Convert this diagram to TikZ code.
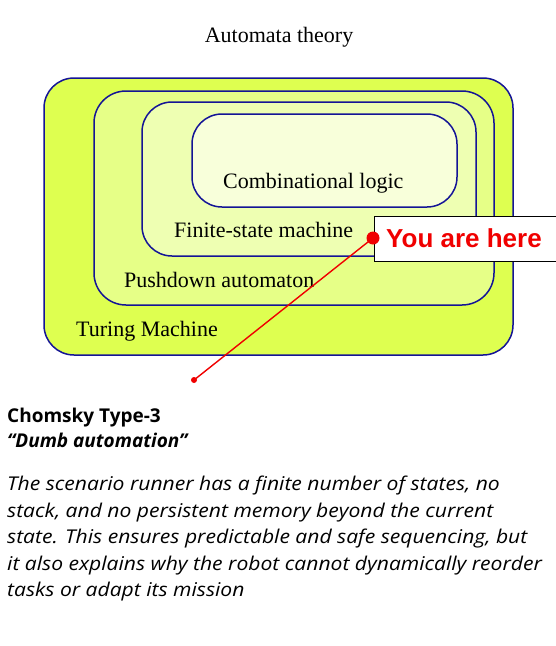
\documentclass[tikz,border=0pt]{standalone}
\usepackage{fontspec}
\setmainfont{Liberation Serif}
\newfontfamily\bodyfont{Open Sans}
\newfontfamily\widebodyfont[FakeStretch=1.11]{Open Sans}
\newfontfamily\arialfont{Liberation Sans}
\definecolor{bordercol}{RGB}{20,20,150}
\definecolor{tmfill}{RGB}{222,255,80}
\definecolor{pdfill}{RGB}{230,255,135}
\definecolor{fsmfill}{RGB}{238,255,178}
\definecolor{clfill}{RGB}{248,255,218}
\definecolor{herered}{RGB}{240,0,0}
\tikzset{
  setbox/.style={draw=bordercol, line width=1.5pt},
  setlabel/.style={anchor=base west, inner sep=0pt, font=\fontsize{22}{24}\selectfont},
  bodytext/.style={anchor=base west, inner sep=0pt, font=\widebodyfont\itshape\fontsize{19}{22}\selectfont},
}
\begin{document}
\begin{tikzpicture}[x=1pt,y=-1pt]
\useasboundingbox (0,0) rectangle (556,646);
\fill[white] (0,0) rectangle (556,646);
% nested sets
\draw[setbox, fill=tmfill, rounded corners=30pt] (44,78) rectangle (513,355);
\draw[setbox, fill=pdfill, rounded corners=32pt] (94,91) rectangle (494,305);
\draw[setbox, fill=fsmfill, rounded corners=30pt] (142,102) rectangle (476,256);
\draw[setbox, fill=clfill, rounded corners=30pt] (192,114) rectangle (457,207);
% labels
\node[anchor=base, inner sep=0pt, font=\fontsize{22}{24}\selectfont] (title) at (279,42) {Automata theory};
\node[setlabel] (cl) at (223,188) {Combinational logic};
\node[setlabel] (fsm) at (174,237) {Finite-state machine};
\node[setlabel] (pda) at (124,287) {Pushdown automaton};
\node[setlabel] (tm) at (76,336) {Turing Machine};
% you are here
\draw[black, line width=0.8pt, fill=white] (374,216) rectangle (560,261);
\node[anchor=base west, inner sep=0pt, text=herered, font=\arialfont\bfseries\fontsize{26}{28}\selectfont] (here) at (386,247) {You are here};
\node[circle, fill=herered, inner sep=0pt, minimum size=13pt] (dot) at (373,238) {};
\node[circle, fill=herered, inner sep=0pt, minimum size=6pt] (end) at (194,380) {};
\draw[herered, line width=1.4pt] (dot.center) -- (end.center);
% text
\node[anchor=base west, inner sep=0pt, font=\bodyfont\bfseries\fontsize{19}{22}\selectfont] (t1) at (7,422) {Chomsky Type-3};
\node[anchor=base west, inner sep=0pt, font=\bodyfont\bfseries\itshape\fontsize{19}{22}\selectfont] (t2) at (7,447) {“Dumb automation”};
\node[bodytext] (p1) at (7,490) {The scenario runner has a finite number of states, no};
\node[bodytext] (p2) at (7,517) {stack, and no persistent memory beyond the current};
\node[bodytext] (p3) at (7,543) {state. This ensures predictable and safe sequencing, but};
\node[bodytext] (p4) at (7,570) {it also explains why the robot cannot dynamically reorder};
\node[bodytext] (p5) at (7,596) {tasks or adapt its mission};
\end{tikzpicture}
\end{document}
